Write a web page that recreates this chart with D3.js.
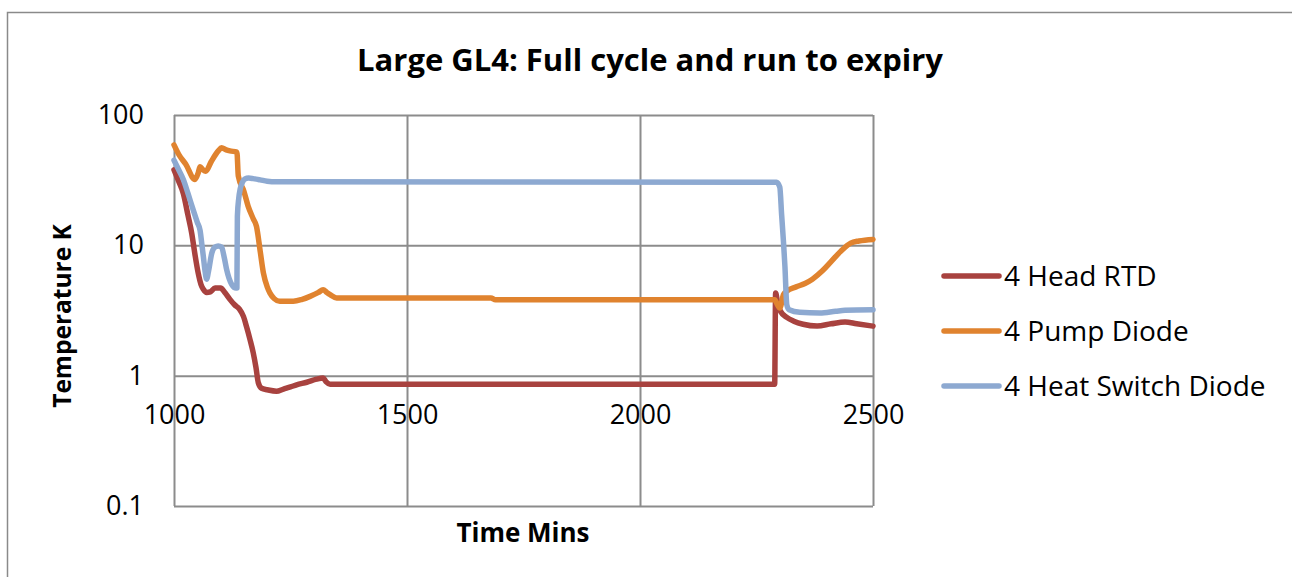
<!DOCTYPE html>
<html>
<head>
<meta charset="utf-8">
<script src="https://cdn.jsdelivr.net/npm/d3@7"></script>
<style>
  body { margin: 0; background: #fff; }
  svg { display: block; font-family: "Open Sans", "Noto Sans", sans-serif; }
</style>
</head>
<body>
<div id="chart"></div>
<script>
// series (time in mins, temperature in K)
var headTime = [1000, 1010, 1020, 1030, 1038, 1045, 1052, 1058, 1063, 1070, 1078, 1088, 1100, 1110, 1120, 1130, 1140, 1149, 1156, 1163, 1170, 1176, 1181, 1188, 1200, 1220, 1235, 1250, 1263, 1285, 1306, 1320, 1326, 1335, 1700, 2289, 2291, 2296, 2302, 2315, 2330, 2350, 2380, 2410, 2440, 2465, 2500];
var headTemp = [38, 31, 25, 17, 12.4, 8.5, 6.1, 5.0, 4.6, 4.35, 4.4, 4.7, 4.7, 4.3, 3.85, 3.5, 3.25, 2.85, 2.35, 1.9, 1.5, 1.15, 0.88, 0.8, 0.78, 0.76, 0.79, 0.82, 0.85, 0.89, 0.94, 0.96, 0.9, 0.86, 0.86, 0.86, 4.3, 3.5, 3.1, 2.8, 2.62, 2.48, 2.4, 2.5, 2.58, 2.5, 2.4];

var pumpTime = [1000, 1010, 1025, 1045, 1052, 1056, 1062, 1068, 1080, 1095, 1102, 1112, 1120, 1135, 1138, 1150, 1159, 1170, 1177, 1185, 1192, 1200, 1206, 1215, 1227, 1256, 1275, 1292, 1310, 1320, 1328, 1335, 1349, 1680, 1690, 2289, 2295, 2300, 2308, 2315, 2335, 2354, 2370, 2392, 2410, 2430, 2452, 2470, 2500];
var pumpTemp = [59, 50, 42, 32, 36, 40, 38, 37, 44, 53, 56, 54, 53, 52, 34, 26, 20, 16, 14, 9, 6.1, 4.8, 4.3, 3.9, 3.72, 3.72, 3.85, 4.06, 4.35, 4.57, 4.35, 4.19, 3.95, 3.95, 3.82, 3.82, 3.5, 3.3, 4.2, 4.45, 4.8, 5.1, 5.5, 6.4, 7.5, 8.95, 10.4, 10.8, 11.1];

var switchTime = [1000, 1010, 1020, 1030, 1041, 1050, 1056, 1060, 1063, 1067, 1070, 1074, 1081, 1088, 1095, 1102, 1108, 1113, 1118, 1124, 1133, 1135, 1136, 1139, 1142, 1147, 1152, 1160, 1170, 1185, 1200, 1220, 2293, 2300, 2304, 2308, 2311, 2315, 2320, 2343, 2386, 2420, 2440, 2500];
var switchTemp = [45, 38, 32, 25, 18.8, 15, 13, 10, 8.2, 6.2, 5.5, 6.3, 8.7, 9.7, 9.9, 9.7, 8, 6.5, 5.6, 5.0, 4.7, 4.7, 16.7, 23, 27, 30.5, 32.3, 32.8, 32.5, 31.8, 31, 30.7, 30.5, 28, 17, 10.5, 6.9, 3.5, 3.2, 3.06, 3.03, 3.12, 3.17, 3.2];

var seriesNames = ["4 Head RTD", "4 Pump Diode", "4 Heat Switch Diode"];
var seriesColors = ["#A8423F", "#E0832F", "#8DA9D1"];
var xTicks = [1000, 1500, 2000, 2500];
var yTicks = [0.1, 1, 10, 100];

var width = 1292, height = 577;
var plot = {left: 174, right: 873, top: 115, bottom: 506};

var svg = d3.select("#chart")
            .append("svg")
            .attr("width", width)
            .attr("height", height);

// outer chart border (runs off the right and bottom edge)
svg.append("rect")
   .attr("x", 7.5)
   .attr("y", 12.5)
   .attr("width", 1320)
   .attr("height", 620)
   .style("fill", "none")
   .style("stroke", "#8a8a8a")
   .style("stroke-width", 1.5);

var xScale = d3.scaleLinear()
               .domain([1000, 2500])
               .range([plot.left, plot.right]);

var yScale = d3.scaleLog()
               .domain([0.1, 100])
               .range([plot.bottom, plot.top]);

// vertical grid
svg.append("g")
   .attr("class", "x-grid")
   .attr("transform", "translate(0," + plot.bottom + ")")
   .call(d3.axisBottom(xScale).tickValues(xTicks).tickSize(-(plot.bottom - plot.top)).tickFormat(""))
   .call(function(g) { g.select(".domain").remove(); })
   .selectAll("line")
   .style("stroke", "#8c8c8c")
   .style("stroke-width", 2);

// horizontal grid
svg.append("g")
   .attr("class", "y-grid")
   .attr("transform", "translate(" + plot.left + ",0)")
   .call(d3.axisLeft(yScale).tickValues(yTicks).tickSize(-(plot.right - plot.left)).tickFormat(""))
   .call(function(g) { g.select(".domain").remove(); })
   .selectAll("line")
   .style("stroke", "#8c8c8c")
   .style("stroke-width", 2);

// y tick labels
svg.append("g")
   .attr("class", "y-axis")
   .attr("transform", "translate(" + plot.left + ",0)")
   .call(d3.axisLeft(yScale).tickValues(yTicks).tickSize(0).tickPadding(30)
           .tickFormat(function(d) { return d3.format("~g")(d); }))
   .call(function(g) { g.select(".domain").remove(); })
   .selectAll("text")
   .style("font-size", "27px")
   .style("font-family", "'Open Sans', sans-serif")
   .style("fill", "#000");

// x tick labels, axis crosses at 1
svg.append("g")
   .attr("class", "x-axis")
   .attr("transform", "translate(0," + yScale(1) + ")")
   .call(d3.axisBottom(xScale).tickValues(xTicks).tickSize(0).tickPadding(29)
           .tickFormat(d3.format("d")))
   .call(function(g) { g.select(".domain").remove(); })
   .selectAll("text")
   .style("font-size", "27px")
   .style("font-family", "'Open Sans', sans-serif")
   .style("fill", "#000");

// lines
var line = d3.line()
             .x(function(d) { return xScale(d[0]); })
             .y(function(d) { return yScale(d[1]); })
             .curve(d3.curveMonotoneX);

var series = [
  d3.zip(headTime, headTemp),
  d3.zip(pumpTime, pumpTemp),
  d3.zip(switchTime, switchTemp)
];

svg.selectAll(".series")
   .data(series)
   .enter()
   .append("path")
   .attr("class", "series")
   .attr("d", line)
   .style("fill", "none")
   .style("stroke", function(d, i) { return seriesColors[i]; })
   .style("stroke-width", 5.5)
   .style("stroke-linejoin", "round")
   .style("stroke-linecap", "round");

// title
svg.append("text")
   .attr("x", 650)
   .attr("y", 71)
   .style("text-anchor", "middle")
   .style("font-size", "31px")
   .style("font-weight", "bold")
   .text("Large GL4: Full cycle and run to expiry");

// axis titles
svg.append("text")
   .attr("x", 523)
   .attr("y", 542)
   .style("text-anchor", "middle")
   .style("font-size", "26px")
   .style("font-weight", "bold")
   .text("Time Mins");

svg.append("text")
   .attr("transform", "translate(71,316) rotate(-90)")
   .style("text-anchor", "middle")
   .style("font-size", "24.5px")
   .style("font-weight", "bold")
   .text("Temperature K");

// legend
var legend = svg.selectAll(".legend")
                .data(seriesNames)
                .enter()
                .append("g")
                .attr("class", "legend")
                .attr("transform", function(d, i) { return "translate(944," + (276 + i * 55) + ")"; });

legend.append("line")
      .attr("x1", 0)
      .attr("x2", 55)
      .style("stroke", function(d, i) { return seriesColors[i]; })
      .style("stroke-width", 5.5)
      .style("stroke-linecap", "round");

legend.append("text")
      .attr("x", 60)
      .attr("dy", "0.35em")
      .style("font-size", "28px")
      .text(function(d) { return d; });
</script>
</body>
</html>
